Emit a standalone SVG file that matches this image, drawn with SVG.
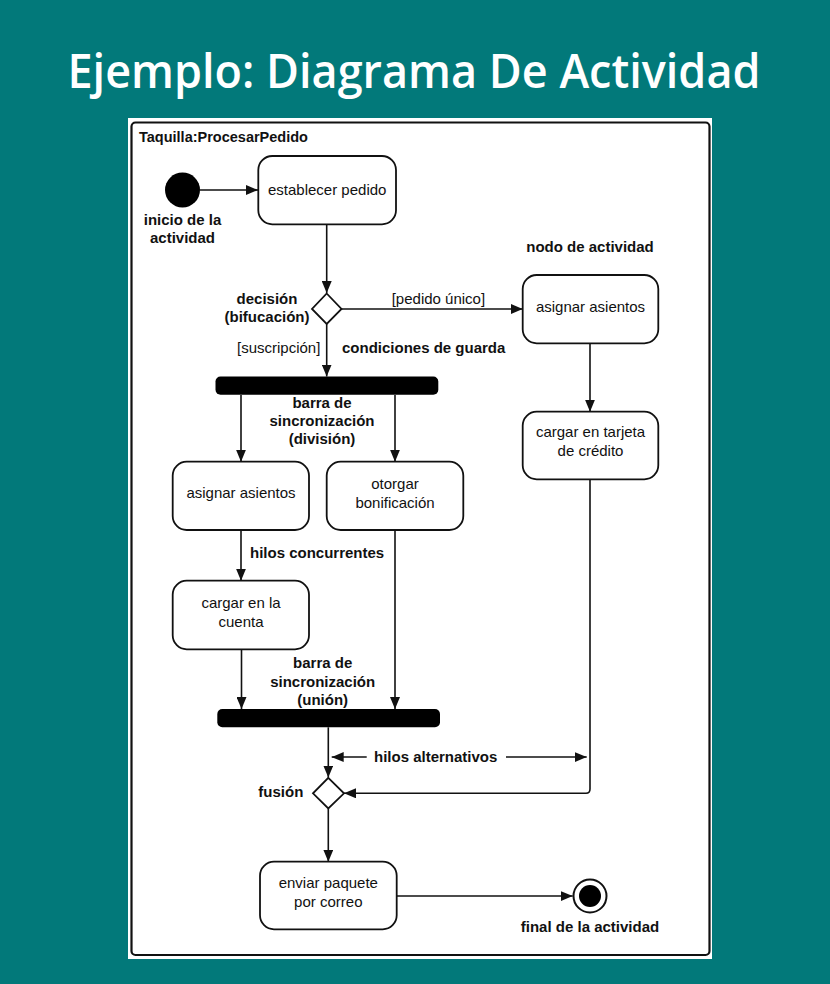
<svg xmlns="http://www.w3.org/2000/svg" width="830" height="984" viewBox="0 0 830 984">
<defs>
<style>
.node{fill:#fff;stroke:#111;stroke-width:1.8}
.bar{fill:#000}
.lbl{font-family:"Liberation Sans",Arial,sans-serif;font-size:15px;fill:#111;text-anchor:middle}
.ann{font-family:"Liberation Sans",Arial,sans-serif;font-size:15px;font-weight:bold;fill:#111}
.guard{font-family:"Liberation Sans",Arial,sans-serif;font-size:15px;fill:#111}
.c{text-anchor:middle}
.conn path{fill:none;stroke:#111;stroke-width:1.6}
</style>
<marker id="ah" viewBox="0 0 12 10" refX="12" refY="5" markerWidth="12" markerHeight="10" markerUnits="userSpaceOnUse" orient="auto">
<path d="M0,0 L12,5 L0,10 z" fill="#111"/>
</marker>
</defs>
<rect x="0" y="0" width="830" height="984" fill="#02797A"/>
<text x="414" y="88" font-family="'Open Sans','Noto Sans',sans-serif" font-size="47" font-weight="600" fill="#fff" text-anchor="middle" textLength="693" lengthAdjust="spacingAndGlyphs">Ejemplo: Diagrama De Actividad</text>
<rect x="128" y="118" width="584" height="841" fill="#fff"/>
<rect x="131.5" y="122.5" width="578" height="832.5" rx="4" fill="none" stroke="#111" stroke-width="2.2"/>
<text x="139" y="142" class="ann" style="font-size:14.5px">Taquilla:ProcesarPedido</text>

<g class="conn">
<path d="M200,190 H258" marker-end="url(#ah)"/>
<path d="M326.7,224.3 V293" marker-end="url(#ah)"/>
<path d="M341,309 H522.7" marker-end="url(#ah)"/>
<path d="M326.7,323.5 V376.5" marker-end="url(#ah)"/>
<path d="M241,395 V461.7" marker-end="url(#ah)"/>
<path d="M395,395 V461.7" marker-end="url(#ah)"/>
<path d="M241,530 V580.7" marker-end="url(#ah)"/>
<path d="M241.5,649.3 V709" marker-end="url(#ah)"/>
<path d="M395,530 V709" marker-end="url(#ah)"/>
<path d="M328.3,727.3 V777.5" marker-end="url(#ah)"/>
<path d="M590,343.3 V411.7" marker-end="url(#ah)"/>
<path d="M590,479.3 V789 Q590,793.3 586,793.3 H344" marker-end="url(#ah)"/>
<path d="M328.3,808.5 V861.7" marker-end="url(#ah)"/>
<path d="M396.7,896 H572.7" marker-end="url(#ah)"/>
<path d="M366.7,757 H331.7" marker-end="url(#ah)"/>
<path d="M506,757 H586.7" marker-end="url(#ah)"/>
</g>

<g id="inicio">
<circle cx="182.5" cy="190" r="17.5" fill="#000"/>
<text class="ann c" x="182.5" y="225">inicio de la</text>
<text class="ann c" x="182.5" y="243">actividad</text>
</g>
<g id="establecer">
<rect class="node" x="258.3" y="156" width="137.7" height="68.3" rx="14"/>
<text class="lbl" x="327.2" y="195">establecer pedido</text>
</g>
<g id="decision">
<path class="node" d="M326.7,293.5 L341.5,309 L326.7,324 L312,309 z"/>
<text class="ann c" x="267" y="304">decisión</text>
<text class="ann c" x="267" y="322.3">(bifucación)</text>
<text class="guard" x="391.7" y="304">[pedido único]</text>
<text class="guard" x="237" y="352.7">[suscripción]</text>
<text class="ann" x="342" y="352.7">condiciones de guarda</text>
</g>
<g id="asignar2">
<text class="ann c" x="590" y="251.7">nodo de actividad</text>
<rect class="node" x="522.7" y="275" width="135.6" height="68.3" rx="14"/>
<text class="lbl" x="590.5" y="311.7">asignar asientos</text>
</g>
<g id="tarjeta">
<rect class="node" x="522.7" y="411.7" width="135.6" height="67.6" rx="14"/>
<text class="lbl" x="590.5" y="437.3">cargar en tarjeta</text>
<text class="lbl" x="590.5" y="456">de crédito</text>
</g>
<g id="division">
<rect class="bar" x="215.5" y="376.5" width="222.8" height="18.3" rx="5"/>
<text class="ann c" x="322" y="407.5">barra de</text>
<text class="ann c" x="322" y="426">sincronización</text>
<text class="ann c" x="322" y="444">(división)</text>
</g>
<g id="asignar1">
<rect class="node" x="172.7" y="461.7" width="136.3" height="68.3" rx="14"/>
<text class="lbl" x="241" y="498.3">asignar asientos</text>
</g>
<g id="bonificacion">
<rect class="node" x="326.7" y="461.7" width="136.6" height="68.3" rx="14"/>
<text class="lbl" x="395" y="489">otorgar</text>
<text class="lbl" x="395" y="507.7">bonificación</text>
</g>
<text class="ann" x="250" y="557.5">hilos concurrentes</text>
<g id="cuenta">
<rect class="node" x="172.7" y="580.7" width="136.3" height="68.6" rx="14"/>
<text class="lbl" x="241" y="608.3">cargar en la</text>
<text class="lbl" x="241" y="626.7">cuenta</text>
</g>
<g id="union">
<rect class="bar" x="217.3" y="709" width="222.7" height="18.3" rx="5"/>
<text class="ann c" x="322.7" y="668.3">barra de</text>
<text class="ann c" x="322.7" y="686.7">sincronización</text>
<text class="ann c" x="322.7" y="705">(unión)</text>
</g>
<text class="ann" x="374" y="762">hilos alternativos</text>
<g id="fusion">
<path class="node" d="M328.3,777.8 L344,793.3 L328.3,808.5 L313,793.3 z"/>
<text class="ann" x="258.3" y="796.7">fusión</text>
</g>
<g id="enviar">
<rect class="node" x="260" y="861.7" width="136.7" height="67.6" rx="14"/>
<text class="lbl" x="328.3" y="888.3">enviar paquete</text>
<text class="lbl" x="328.3" y="906.7">por correo</text>
</g>
<g id="final">
<circle cx="590" cy="896" r="16.5" fill="#fff" stroke="#111" stroke-width="2"/>
<circle cx="590" cy="896" r="11" fill="#000"/>
<text class="ann c" x="590" y="931.7">final de la actividad</text>
</g>
</svg>
